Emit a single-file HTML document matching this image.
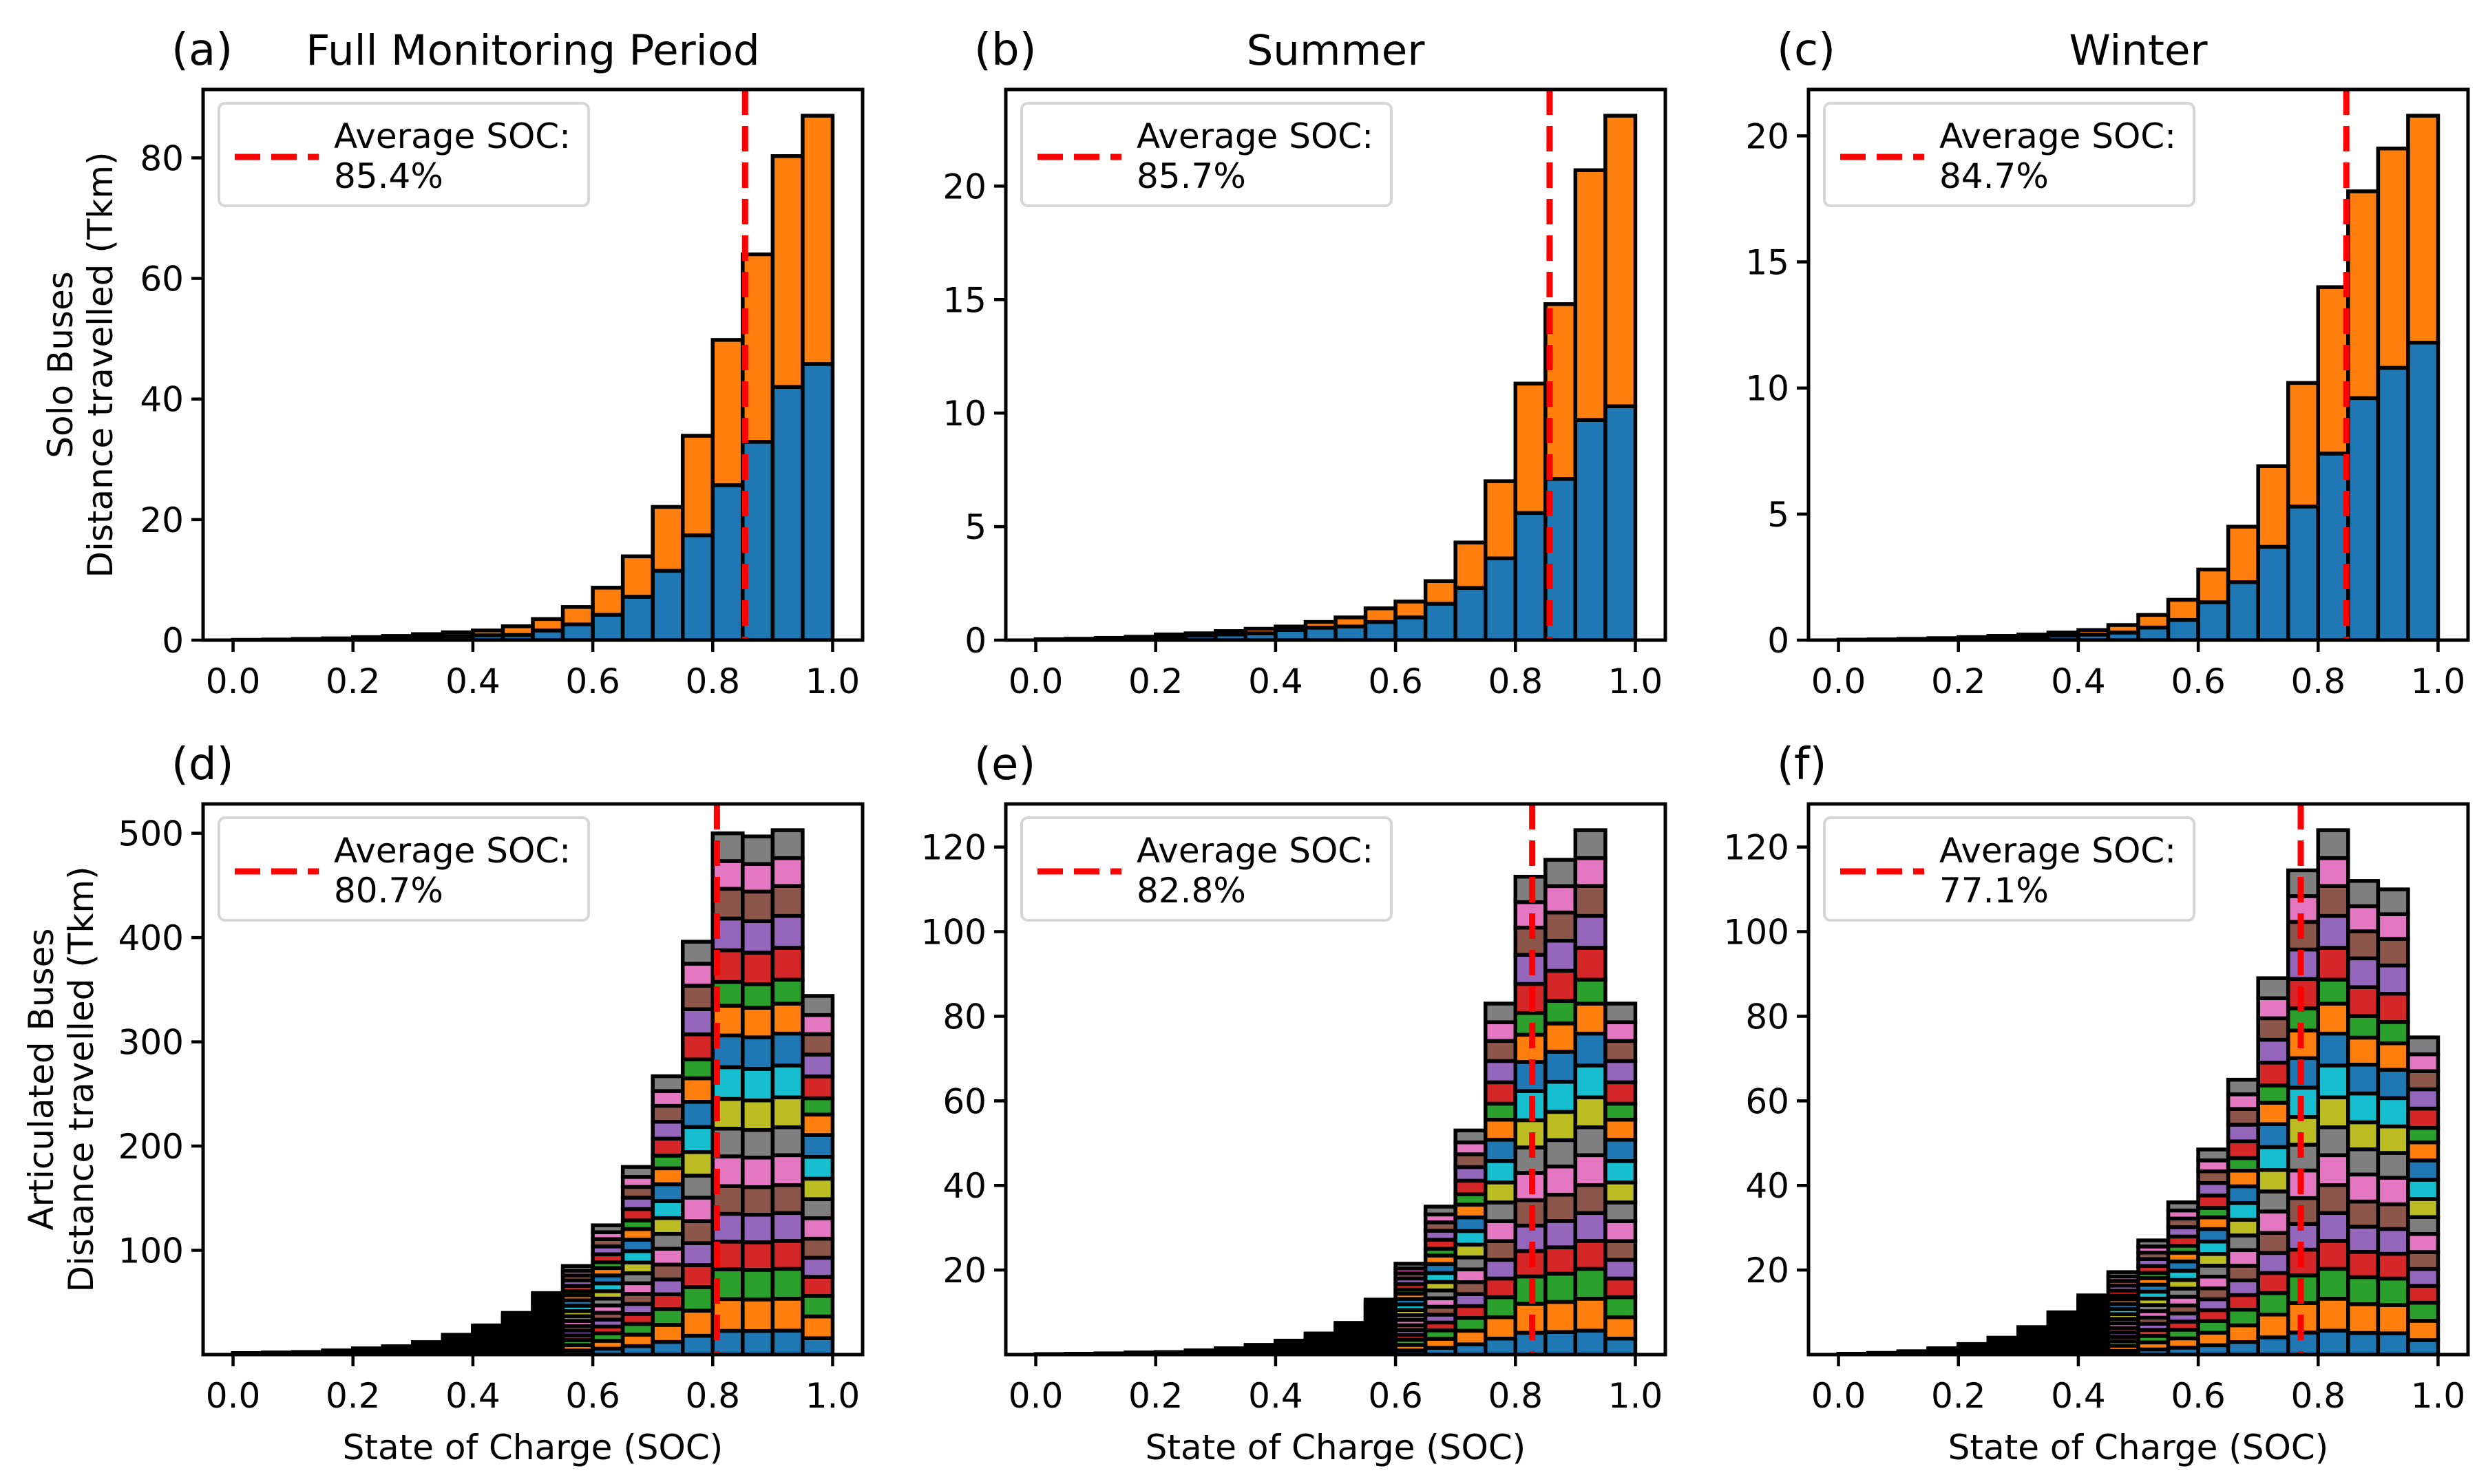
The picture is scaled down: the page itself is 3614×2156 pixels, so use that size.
<!DOCTYPE html>
<html><head><meta charset="utf-8"><style>
html,body{margin:0;padding:0;background:#fff;}
svg{display:block;font-family:"DejaVu Sans","Liberation Sans",sans-serif;}
</style></head><body>
<svg id="fig" xmlns="http://www.w3.org/2000/svg" width="3614" height="2156" viewBox="0 0 3614 2156"></svg>
<script>
const binEdges = [0,0.05,0.1,0.15,0.2,0.25,0.3,0.35,0.4,0.45,0.5,0.55,0.6,0.65,0.7,0.75,0.8,0.85,0.9,0.95];
const xTickLabels = ["0.0","0.2","0.4","0.6","0.8","1.0"];
const xTickValues = [0,0.2,0.4,0.6,0.8,1.0];
const aBlue = [0.03,0.05,0.1,0.15,0.25,0.35,0.5,0.65,0.8,0.85,1.6,2.6,4.2,7.2,11.5,17.4,25.7,32.9,42,45.8];
const aTotal = [0.05,0.1,0.2,0.3,0.5,0.7,1.0,1.3,1.6,2.3,3.5,5.5,8.7,13.9,22.1,33.9,49.8,64,80.3,87];
const bBlue = [0.02,0.03,0.06,0.1,0.15,0.2,0.25,0.3,0.45,0.55,0.6,0.8,1.0,1.6,2.3,3.6,5.6,7.1,9.7,10.3];
const bTotal = [0.04,0.06,0.1,0.15,0.25,0.3,0.4,0.5,0.6,0.8,1.0,1.4,1.7,2.6,4.3,7.0,11.3,14.8,20.7,23.1];
const cBlue = [0.01,0.02,0.03,0.05,0.07,0.1,0.12,0.18,0.22,0.3,0.5,0.8,1.5,2.3,3.7,5.3,7.4,9.6,10.8,11.8];
const cTotal = [0.02,0.03,0.05,0.08,0.12,0.17,0.22,0.3,0.4,0.6,1.0,1.6,2.8,4.5,6.9,10.2,14.0,17.8,19.5,20.8];
const dTotal = [1.4,2,2.5,4,6,8,12,19,28,40,59,85,124,180,267,396,500,497,503,344];
const eTotal = [0.1,0.2,0.3,0.5,0.6,1,1.5,2.3,3.3,5,7.5,13,21.5,35,53,83,113,117,124,83];
const fTotal = [0.2,0.4,0.8,1.5,2.5,4,6.5,10,14,19.5,27,36,48.5,65,89,114.5,124,112,110,75];
const busWeights = [60,80,75,70,70,70,75,70,75,80,80,75,60,80,80,75,70,70];
const averages = [0.854,0.857,0.847,0.807,0.828,0.771];
const avgLabels = ["85.4%","85.7%","84.7%","80.7%","82.8%","77.1%"];
const yTicksTop = [[0,20,40,60,80],[0,5,10,15,20],[0,5,10,15,20]];
const yTicksBottom = [[100,200,300,400,500],[20,40,60,80,100,120],[20,40,60,80,100,120]];
const panelLetters = ["(a)","(b)","(c)","(d)","(e)","(f)"];
const titles = ["Full Monitoring Period","Summer","Winter"];
const tab10 = ["#1f77b4","#ff7f0e","#2ca02c","#d62728","#9467bd","#8c564b","#e377c2","#7f7f7f","#bcbd22","#17becf"];

const NS = "http://www.w3.org/2000/svg";
const svg = document.getElementById("fig");
function mk(tag, attrs, parent){
  const e = document.createElementNS(NS, tag);
  for (const k in attrs) e.setAttribute(k, attrs[k]);
  (parent||svg).appendChild(e);
  return e;
}
const lefts = [295,1461,2627];
const W = 958, H = 800;
const tops = [130,1168];
const unit = W/1.1;
const BW = 0.05;

function drawPanel(col,row){
  const idx = row*3+col;
  const L = lefts[col], T = tops[row], B = T+H;
  const g = mk("g",{});
  
  
  let totals, blue=null;
  if(row===0){ totals=[aTotal,bTotal,cTotal][col]; blue=[aBlue,bBlue,cBlue][col]; }
  else totals=[dTotal,eTotal,fTotal][col];
  const ymax = Math.max(...totals)*1.05;
  const xs = v => L + 0.05*unit + v*unit;
  const ys = v => B - v/ymax*H;
  const clip = mk("clipPath",{id:"clip"+idx}, g);
  mk("rect",{x:L,y:T,width:W,height:H},clip);
  const bars = mk("g",{"clip-path":"url(#clip"+idx+")"},g);
  
  
  binEdges.forEach((b,i)=>{
    const x1 = xs(b), x2 = xs(b+BW);
    if(row===0){
      const segs=[[0,blue[i],tab10[0],'solo-blue'],[blue[i],totals[i],tab10[1],'solo-orange']];
      segs.forEach(s=>{
        const r = mk("rect",{x:x1,y:ys(s[1]),width:x2-x1,height:Math.max(0,ys(s[0])-ys(s[1])),fill:s[2],stroke:"#000","stroke-width":5.5},bars);
        
        
      });
    } else {
      const wsum = busWeights.reduce((a,c)=>a+c,0);
      let acc=0;
      busWeights.forEach((w,k)=>{
        const v = totals[i]*w/wsum;
        const r = mk("rect",{x:x1,y:ys(acc+v),width:x2-x1,height:ys(acc)-ys(acc+v),fill:tab10[k%10],stroke:"#000","stroke-width":5.5},bars);
        
        
        acc+=v;
      });
    }
  });
  const av = mk("line",{x1:xs(averages[idx]),x2:xs(averages[idx]),y1:T,y2:B,stroke:"#ff0000","stroke-width":9,"stroke-dasharray":"37 16"},g);
  
  
  const fr = mk("rect",{x:L,y:T,width:W,height:H,fill:"none",stroke:"#000","stroke-width":5},g);
  
  
  xTickValues.forEach((v,k)=>{
    const x = xs(v);
    const t = mk("line",{x1:x,x2:x,y1:B,y2:B+17,stroke:"#000","stroke-width":4.5},g);
    
    
    const tl = mk("text",{x:x,y:B+77,"font-size":50,"text-anchor":"middle",fill:"#000"},g);
    tl.textContent = xTickLabels[k];
    
    
  });
  const yt = row===0 ? yTicksTop[col] : yTicksBottom[col];
  yt.forEach(v=>{
    const y = ys(v);
    const t = mk("line",{x1:L-17,x2:L,y1:y,y2:y,stroke:"#000","stroke-width":4.5},g);
    
    
    const tl = mk("text",{x:L-28,y:y+18,"font-size":50,"text-anchor":"end",fill:"#000"},g);
    tl.textContent = String(v);
    
    
  });
  const lg = mk("g",{},g);
  
  
  mk("rect",{x:L+23,y:T+20,width:537,height:149,rx:9,fill:"#fff",stroke:"#d6d6d6","stroke-width":4},lg);
  const ll = mk("line",{x1:L+46,x2:L+168,y1:T+98,y2:T+98,stroke:"#ff0000","stroke-width":9,"stroke-dasharray":"37 16"},lg);
  
  
  const lt1 = mk("text",{x:L+190,y:T+85,"font-size":50,fill:"#000"},lg);
  lt1.textContent = "Average SOC:";
  
  
  const lt2 = mk("text",{x:L+190,y:T+143,"font-size":50,fill:"#000"},lg);
  lt2.textContent = avgLabels[idx];
  
  
  const pl = mk("text",{x:L-46,y:T-36,"font-size":64,fill:"#000"},g);
  pl.textContent = panelLetters[idx];
  
  
  if(row===0){
    const tt = mk("text",{x:L+W/2,y:T-36,"font-size":61,"text-anchor":"middle",fill:"#000"},g);
    tt.textContent = titles[col];
    
    
  } else {
    const xl = mk("text",{x:L+W/2,y:B+152,"font-size":50,"text-anchor":"middle",fill:"#000"},g);
    xl.textContent = "State of Charge (SOC)";
    
    
  }
  if(col===0){
    const cy = T+H/2;
    const l1 = row===0 ? "Solo Buses" : "Articulated Buses";
    const x1 = row===0 ? 105 : 77;
    const a = mk("text",{x:x1,y:cy,"font-size":50,"text-anchor":"middle",fill:"#000",transform:"rotate(-90 "+x1+" "+cy+")"},g);
    a.textContent = l1;
    
    
    const x2 = x1+58;
    const b = mk("text",{x:x2,y:cy,"font-size":50,"text-anchor":"middle",fill:"#000",transform:"rotate(-90 "+x2+" "+cy+")"},g);
    b.textContent = "Distance travelled (Tkm)";
    
    
  }
}
for(let r=0;r<2;r++) for(let c=0;c<3;c++) drawPanel(c,r);
</script>
</body></html>
